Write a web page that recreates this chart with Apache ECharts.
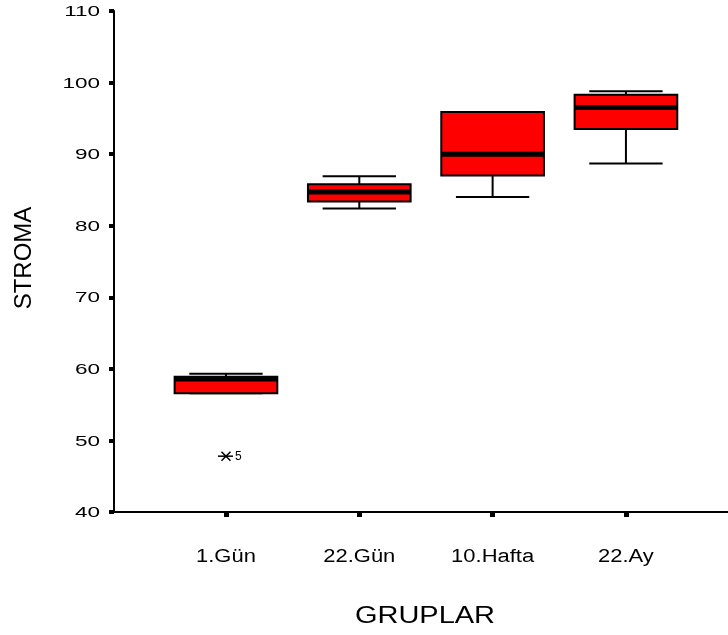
<!DOCTYPE html>
<html>
<head>
<meta charset="utf-8">
<script src="https://cdn.jsdelivr.net/npm/echarts@6/dist/echarts.min.js"></script>
<style>
  html, body { margin: 0; padding: 0; background: #fff; }
  #chart { width: 728px; height: 635px; }
</style>
</head>
<body>
<div id="chart"></div>
<script>
  // box plot values
  var groups = ['1.Gün', '22.Gün', '10.Hafta', '22.Ay'];
  var minVals = [56.6, 82.4, 84.0, 88.7];
  var q1Vals = [56.6, 83.4, 87.0, 93.5];
  var medVals = [58.6, 84.7, 90.0, 96.5];
  var q3Vals = [58.9, 85.8, 95.9, 98.3];
  var maxVals = [59.3, 86.9, 95.9, 98.8];

  // extreme values (case numbers as labels)
  var extremeGroup = [0];
  var extremeVals = [47.8];
  var extremeLabels = ['5'];

  var yTicks = [40, 50, 60, 70, 80, 90, 100, 110];

  var boxData = groups.map(function (g, i) {
    return [i, minVals[i], q1Vals[i], medVals[i], q3Vals[i], maxVals[i]];
  });
  var extremeData = extremeGroup.map(function (g, i) {
    return [g, extremeVals[i], extremeLabels[i]];
  });

  var black = '#000';
  var font = 'Liberation Sans, Arial, sans-serif';

  function renderBox(params, api) {
    var idx = api.value(0);
    var band = api.size([1, 0])[0];
    var bw = band * 0.77, cw = band * 0.55;
    var pMin = api.coord([idx, api.value(1)]);
    var pQ1 = api.coord([idx, api.value(2)]);
    var pMed = api.coord([idx, api.value(3)]);
    var pQ3 = api.coord([idx, api.value(4)]);
    var pMax = api.coord([idx, api.value(5)]);
    var cx = pMed[0];
    var ls = { stroke: black, lineWidth: 2 };
    return {
      type: 'group',
      children: [
        { type: 'line', shape: { x1: cx, y1: pMax[1], x2: cx, y2: pQ3[1] }, style: ls },
        { type: 'line', shape: { x1: cx, y1: pQ1[1], x2: cx, y2: pMin[1] }, style: ls },
        { type: 'line', shape: { x1: cx - cw / 2, y1: pMax[1], x2: cx + cw / 2, y2: pMax[1] }, style: ls },
        { type: 'line', shape: { x1: cx - cw / 2, y1: pMin[1], x2: cx + cw / 2, y2: pMin[1] }, style: ls },
        {
          type: 'rect',
          shape: { x: cx - bw / 2, y: pQ3[1], width: bw, height: pQ1[1] - pQ3[1] },
          style: { fill: '#ff0000', stroke: black, lineWidth: 2 }
        },
        { type: 'line', shape: { x1: cx - bw / 2, y1: pMed[1], x2: cx + bw / 2, y2: pMed[1] }, style: { stroke: black, lineWidth: 5 } }
      ]
    };
  }

  function renderExtreme(params, api) {
    var p = api.coord([api.value(0), api.value(1)]);
    var ls = { stroke: black, lineWidth: 1.5 };
    return {
      type: 'group',
      children: [
        { type: 'line', shape: { x1: p[0] - 8, y1: p[1], x2: p[0] + 7, y2: p[1] }, style: ls },
        { type: 'line', shape: { x1: p[0] - 4.5, y1: p[1] - 4.5, x2: p[0] + 4.5, y2: p[1] + 4.5 }, style: ls },
        { type: 'line', shape: { x1: p[0] - 4.5, y1: p[1] + 4.5, x2: p[0] + 4.5, y2: p[1] - 4.5 }, style: ls },
        {
          type: 'text',
          style: {
            x: p[0] + 9, y: p[1] + 1, text: extremeLabels[params.dataIndex],
            fill: black, fontSize: 12, fontFamily: font, verticalAlign: 'middle'
          }
        }
      ]
    };
  }

  var chart = echarts.init(document.getElementById('chart'));
  chart.setOption({
    animation: false,
    backgroundColor: '#fff',
    grid: [
      { left: 114, top: 11, right: -20, bottom: 123 },
      { left: 159.3, top: 11, width: 533.3, bottom: 123 }
    ],
    xAxis: [
      {
        gridIndex: 0, type: 'value', min: 0, max: 1,
        axisLine: { show: true, lineStyle: { color: black, width: 2 } },
        axisTick: { show: false }, axisLabel: { show: false }, splitLine: { show: false }
      },
      {
        gridIndex: 1, type: 'category', data: groups,
        axisLine: { show: false },
        axisTick: { show: true, alignWithLabel: true, length: 5, lineStyle: { color: black, width: 5 } },
        axisLabel: { show: false }
      }
    ],
    yAxis: [
      {
        gridIndex: 0, type: 'value', min: 40, max: 110, interval: 10,
        axisLine: { show: true, lineStyle: { color: black, width: 2 } },
        axisTick: { show: true, length: 5, lineStyle: { color: black, width: 4 } },
        axisLabel: { show: false },
        splitLine: { show: false }
      },
      {
        gridIndex: 1, type: 'value', min: 40, max: 110, show: false
      }
    ],
    series: [
      { type: 'custom', xAxisIndex: 1, yAxisIndex: 1, renderItem: renderBox, data: boxData },
      { type: 'custom', xAxisIndex: 1, yAxisIndex: 1, renderItem: renderExtreme, data: extremeData }
    ]
  });

  // the original's texts are stretched sideways, so they are placed as graphic text
  // at the positions the axes give, with a horizontal scale
  var texts = [];
  yTicks.forEach(function (v) {
    texts.push({
      type: 'text', x: 100, y: chart.convertToPixel({ yAxisIndex: 0 }, v) + 1, scaleX: 1.5,
      style: { text: String(v), fill: black, fontSize: 15, fontFamily: font, align: 'right', verticalAlign: 'middle' }
    });
  });
  groups.forEach(function (g, i) {
    texts.push({
      type: 'text', x: chart.convertToPixel({ xAxisIndex: 1 }, i), y: 557, scaleX: 1.22,
      style: { text: g, fill: black, fontSize: 18, fontFamily: font, align: 'center', verticalAlign: 'middle' }
    });
  });
  texts.push({
    type: 'text', x: 425, y: 617, scaleX: 1.26,
    style: { text: 'GRUPLAR', fill: black, fontSize: 23, fontFamily: font, align: 'center', verticalAlign: 'middle' }
  });
  texts.push({
    type: 'text', x: 24, y: 258, rotation: Math.PI / 2,
    style: { text: 'STROMA', fill: black, fontSize: 24, fontFamily: font, align: 'center', verticalAlign: 'middle' }
  });
  chart.setOption({ graphic: texts });
</script>
</body>
</html>
